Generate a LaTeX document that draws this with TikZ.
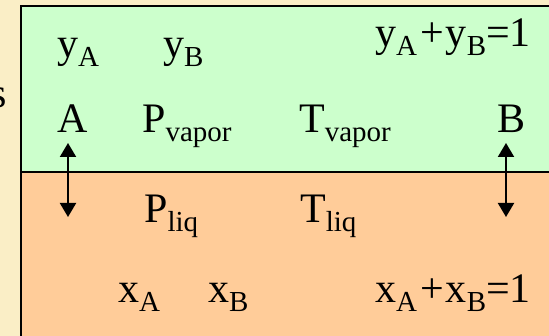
\documentclass[tikz,border=0pt]{standalone}
\usepackage{fontspec}
\setmainfont{Liberation Serif}
\usetikzlibrary{arrows.meta}
\definecolor{parch}{HTML}{FAEEC6}
\definecolor{vapgreen}{HTML}{CCFFCC}
\definecolor{liqorange}{HTML}{FFCC99}
\newcommand\subs[1]{\raisebox{-9pt}{\fontsize{29}{29}\selectfont #1}}
\tikzset{
  lbl/.style={anchor=base west, inner sep=0pt, font=\fontsize{42}{42}\selectfont},
  eqarrow/.style={line width=2pt, {Triangle[length=14pt,width=16pt]}-{Triangle[length=14pt,width=16pt]}}
}
\begin{document}
\begin{tikzpicture}[x=1pt,y=-1pt]
\useasboundingbox (0,0) rectangle (549,336);
\fill[parch] (0,0) rectangle (549,336);
\fill[vapgreen] (21,6) rectangle (560,172);
\fill[liqorange] (21,172) rectangle (560,345);
\draw[line width=1.5pt] (21,345) -- (21,6) -- (560,6);
\draw[line width=1.5pt] (21,172) -- (560,172);
\node[lbl, anchor=base east] (s) at (7,108) {s};
\node[lbl] (yA) at (57,58) {y\subs{A}};
\node[lbl] (yB) at (163,58) {y\subs{B}};
\node[lbl] (ysum) at (375,47) {y\subs{A}\hspace{3pt}+\hspace{2pt}y\subs{B}=1};
\node[lbl] (A) at (57,133) {A};
\node[lbl] (Pv) at (142,133) {P\subs{vapor}};
\node[lbl] (Tv) at (299,133) {T\subs{vapor}};
\node[lbl] (B) at (497,133) {B};
\node[lbl] (Pl) at (144,223) {P\subs{liq}};
\node[lbl] (Tl) at (300,223) {T\subs{liq}};
\node[lbl] (xA) at (118,303) {x\subs{A}};
\node[lbl] (xB) at (208,303) {x\subs{B}};
\node[lbl] (xsum) at (375,303) {x\subs{A}\hspace{3pt}+\hspace{2pt}x\subs{B}=1};
\coordinate (aTop) at (68,143);
\coordinate (aBot) at (68,217);
\coordinate (bTop) at (506,143);
\coordinate (bBot) at (506,217);
\draw[eqarrow] (aTop) -- (aBot);
\draw[eqarrow] (bTop) -- (bBot);
\end{tikzpicture}
\end{document}
